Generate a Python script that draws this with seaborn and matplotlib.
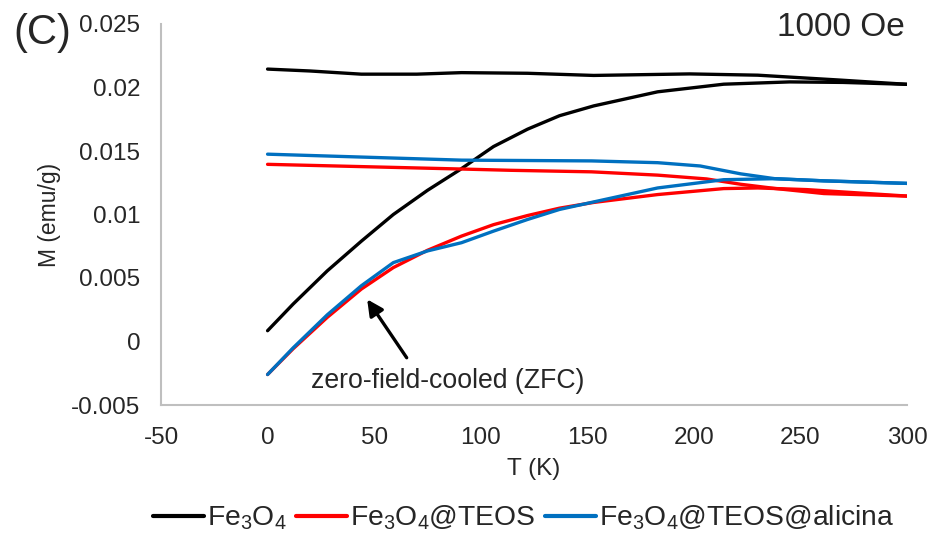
import matplotlib
matplotlib.use("Agg")
import matplotlib.pyplot as plt
import seaborn as sns
import pandas as pd

# ---- data ----
samples = ["Fe$_3$O$_4$", "Fe$_3$O$_4$@TEOS", "Fe$_3$O$_4$@TEOS@alicina"]
colors = ["#000000", "#ff0000", "#0070c0"]

t_fc_fe = [0, 20, 44, 70, 91, 122, 153, 198, 230, 269, 300]
m_fc_fe = [0.02145, 0.0213, 0.02105, 0.02105, 0.02117, 0.02112, 0.02095, 0.02107, 0.02097, 0.02058, 0.02025]
t_zfc_fe = [0, 12, 28, 44, 59, 75, 90, 106, 122, 137, 153, 183, 214, 245, 270, 300]
m_zfc_fe = [0.00085, 0.00295, 0.00556, 0.0079, 0.0100, 0.0119, 0.0135, 0.01535, 0.01672,
            0.01778, 0.01855, 0.01966, 0.02026, 0.02044, 0.0204, 0.02025]

t_fc_teos = [0, 91, 114, 152, 183, 206, 222, 238, 261, 300]
m_fc_teos = [0.01395, 0.01358, 0.01348, 0.01336, 0.0131, 0.0128, 0.01238, 0.01205, 0.01165, 0.01145]
t_zfc_teos = [0, 12, 28, 44, 59, 75, 91, 106, 122, 137, 153, 183, 214, 230, 253, 300]
m_zfc_teos = [-0.0026, -0.00057, 0.0019, 0.00413, 0.00582, 0.00718, 0.0083, 0.0092, 0.00992,
              0.0105, 0.01095, 0.01157, 0.01204, 0.01209, 0.01196, 0.01145]

t_fc_ali = [0, 91, 152, 183, 203, 222, 238, 261, 300]
m_fc_ali = [0.01475, 0.01428, 0.01422, 0.01408, 0.01382, 0.0132, 0.01282, 0.01265, 0.01245]
t_zfc_ali = [0, 12, 28, 44, 59, 75, 91, 106, 122, 137, 153, 183, 214, 238, 261, 300]
m_zfc_ali = [-0.0026, -0.0005, 0.0021, 0.00439, 0.00621, 0.00713, 0.00778, 0.00869, 0.00961,
             0.0104, 0.01099, 0.01209, 0.01274, 0.01282, 0.01265, 0.01245]

x_ticks = [-50, 0, 50, 100, 150, 200, 250, 300]
y_ticks = [-0.005, 0, 0.005, 0.01, 0.015, 0.02, 0.025]
y_tick_labels = ["-0.005", "0", "0.005", "0.01", "0.015", "0.02", "0.025"]

# ---- build long table ----
rows = []
curves = [
    (samples[0], "FC", t_fc_fe, m_fc_fe), (samples[0], "ZFC", t_zfc_fe, m_zfc_fe),
    (samples[1], "FC", t_fc_teos, m_fc_teos), (samples[1], "ZFC", t_zfc_teos, m_zfc_teos),
    (samples[2], "FC", t_fc_ali, m_fc_ali), (samples[2], "ZFC", t_zfc_ali, m_zfc_ali),
]
for s, mode, ts, ms in curves:
    for t, m in zip(ts, ms):
        rows.append({"sample": s, "mode": mode, "T": t, "M": m})
df = pd.DataFrame(rows)

sns.set_theme(style="white")
plt.rcParams["font.family"] = ["Liberation Sans", "DejaVu Sans"]
plt.rcParams["mathtext.fontset"] = "custom"
plt.rcParams["mathtext.rm"] = "Liberation Sans"
plt.rcParams["mathtext.it"] = "Liberation Sans"
plt.rcParams["mathtext.default"] = "regular"

fig = plt.figure(figsize=(9.3, 5.33), dpi=100)
ax = fig.add_axes([161 / 930, 1 - 405 / 533, (907 - 161) / 930, (405 - 24) / 533])

sns.lineplot(data=df, x="T", y="M", hue="sample", units="mode", estimator=None,
             sort=False, palette=dict(zip(samples, colors)), hue_order=samples,
             linewidth=2.4, ax=ax, legend=True)
for ln in ax.lines:
    ln.set_solid_joinstyle("round")
    ln.set_solid_capstyle("round")

ax.set_xlim(-50, 300)
ax.set_ylim(-0.005, 0.025)
ax.set_xticks(x_ticks)
ax.set_xticklabels([str(v) for v in x_ticks])
ax.set_yticks(y_ticks)
ax.set_yticklabels(y_tick_labels)
ax.tick_params(axis="both", length=0, labelsize=17.5, colors="#262626")
ax.tick_params(axis="y", pad=15)
ax.tick_params(axis="x", pad=16)
for side in ["top", "right"]:
    ax.spines[side].set_visible(False)
for side in ["left", "bottom"]:
    ax.spines[side].set_color("#bfbfbf")
    ax.spines[side].set_linewidth(1.5)
ax.grid(False)

ax.set_xlabel("T (K)", fontsize=17.5, color="#262626", labelpad=6)
ax.set_ylabel("M (emu/g)", fontsize=16.5, color="#262626", labelpad=7)

handles, labels = ax.get_legend_handles_labels()
for h in handles:
    h.set_linewidth(3)
ax.get_legend().remove()
fig.legend(handles, labels, loc="center", bbox_to_anchor=(0.563, 0.028), ncol=3,
           frameon=False, fontsize=20.3, handlelength=1.8, handletextpad=0.1,
           columnspacing=0.35, borderpad=0.1)

ax.annotate("", xy=(46, 0.0035), xytext=(66, -0.00146),
            arrowprops=dict(arrowstyle="-|>,head_length=0.8,head_width=0.4",
                            color="black", lw=2.4))
ax.text(84.5, -0.0031, "zero-field-cooled (ZFC)", fontsize=19.2, ha="center", va="center",
        color="#262626")

fig.text(13 / 930, 1 - 33 / 533, "(C)", fontsize=30, ha="left", va="center", color="#262626")
fig.text(905 / 930, 1 - 27 / 533, "1000 Oe", fontsize=24, ha="right", va="center", color="#262626")

fig.savefig("out.png", dpi=100)
